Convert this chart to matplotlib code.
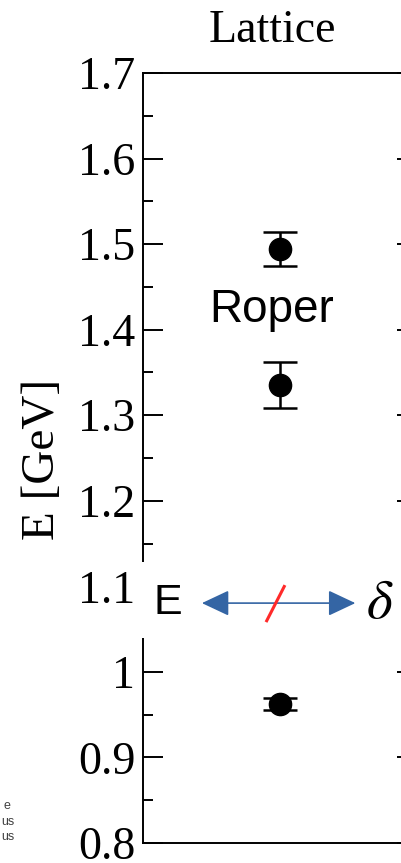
import matplotlib.pyplot as plt
from matplotlib.patches import Rectangle, FancyArrowPatch

# lattice energies (GeV) and errors
x_pos = [1.0, 1.0, 1.0]
energy = [1.494, 1.335, 0.963]
energy_err = [0.020, 0.027, 0.007]

y_ticks = [0.8, 0.9, 1.0, 1.1, 1.2, 1.3, 1.4, 1.5, 1.6, 1.7]
y_tick_labels = ['0.8', '0.9', '1', '1.1', '1.2', '1.3', '1.4', '1.5', '1.6', '1.7']
legend_bits = ['e', 'us', 'us']

serif = 'Liberation Serif'
sans = 'Liberation Sans'

W, H = 401, 863
fig = plt.figure(figsize=(W / 100, H / 100), dpi=100)
ax = fig.add_axes([143 / W, 20 / H, 274 / W, 770 / H])

ax.errorbar(x_pos, energy, yerr=energy_err, fmt='o', color='black',
            markersize=16, elinewidth=1.8, capsize=12, capthick=1.8, zorder=5)

ax.set_xlim(0, 2)
ax.set_ylim(0.8, 1.7)
ax.set_yticks(y_ticks)
ax.set_yticklabels(y_tick_labels, fontfamily=serif, fontsize=33)
ax.set_yticks([0.85, 0.95, 1.05, 1.15, 1.25, 1.35, 1.45, 1.55, 1.65], minor=True)
ax.set_xticks([])
ax.tick_params(axis='y', which='major', direction='in', length=14.4, width=1.4,
               right=True, pad=5.5)
ax.tick_params(axis='y', which='minor', direction='in', length=7.2, width=1.4, right=True)
for s in ax.spines.values():
    s.set_linewidth(1.4)

ax.set_title('Lattice', fontfamily=serif, fontsize=33, pad=22, x=(272 - 143) / 274)
fig.text(43 / W, 1 - 459 / H, 'E [GeV]', rotation=90, ha='center', va='center',
         fontfamily=serif, fontsize=34)

ax.text(0.94, 1.423, 'Roper', ha='center', va='center', fontfamily=sans, fontsize=33)

# white break across the axis
ax.add_patch(Rectangle((-0.03, 1.0395), 2.2, 0.0888, transform=ax.get_yaxis_transform(),
                       facecolor='white', edgecolor='none', clip_on=False, zorder=3))

ax.text(0.18, 1.080, 'E', ha='center', va='center', fontfamily=sans, fontsize=31, zorder=4)
ax.text(1.73, 1.080, r'$\delta$', ha='center', va='center', fontsize=40, zorder=4,
        math_fontfamily='stix')
ax.add_patch(FancyArrowPatch((0.43, 1.0804), (1.55, 1.0804),
                             arrowstyle='<|-|>,head_length=17,head_width=8',
                             color='#3465A4', lw=1.2, clip_on=False, zorder=4,
                             mutation_scale=1, shrinkA=0, shrinkB=0))
ax.plot([0.898, 1.036], [1.0582, 1.1014], color='#FF2A2A', lw=2.2,
        solid_capstyle='butt', zorder=5, clip_on=False)

# leftover legend fragments from the neighbouring panel
for i, t in enumerate(legend_bits):
    fig.text(1 / W if len(t) > 1 else 4 / W, 1 - (806 + 15.5 * i) / H, t,
             ha='left', va='center', fontfamily=sans, fontsize=9, color='#404040')

fig.savefig('out.png', dpi=100)
